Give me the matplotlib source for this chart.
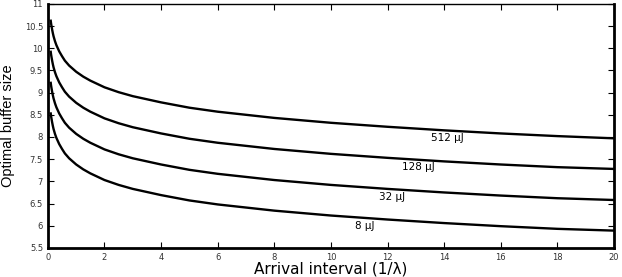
import matplotlib.pyplot as plt
from matplotlib.ticker import FuncFormatter

# Values
interval = [0.1, 0.11, 0.125, 0.15, 0.175, 0.2, 0.25, 0.3, 0.4, 0.5, 0.6, 0.75, 1, 1.25, 1.5,
            2, 2.5, 3, 4, 5, 6, 7, 8, 10, 12, 14, 16, 18, 20]
buf_512 = [10.62, 10.57, 10.51, 10.42, 10.34, 10.27, 10.16, 10.07, 9.93, 9.82, 9.72, 9.61, 9.47,
           9.36, 9.27, 9.12, 9.01, 8.92, 8.78, 8.66, 8.57, 8.50, 8.43, 8.32, 8.23, 8.15, 8.08,
           8.02, 7.97]
buf_128 = [9.92, 9.87, 9.81, 9.72, 9.64, 9.57, 9.46, 9.37, 9.23, 9.12, 9.02, 8.91, 8.77,
           8.66, 8.57, 8.42, 8.31, 8.22, 8.08, 7.96, 7.87, 7.80, 7.73, 7.62, 7.53, 7.45, 7.38,
           7.32, 7.28]
buf_32 = [9.22, 9.17, 9.11, 9.02, 8.94, 8.87, 8.76, 8.67, 8.53, 8.42, 8.32, 8.21, 8.07,
          7.96, 7.87, 7.72, 7.61, 7.52, 7.38, 7.26, 7.17, 7.10, 7.03, 6.92, 6.83, 6.75, 6.68,
          6.62, 6.58]
buf_8 = [8.53, 8.48, 8.42, 8.33, 8.25, 8.18, 8.07, 7.98, 7.84, 7.73, 7.63, 7.52, 7.38,
         7.27, 7.18, 7.03, 6.92, 6.83, 6.69, 6.57, 6.48, 6.41, 6.34, 6.23, 6.14, 6.06, 5.99,
         5.93, 5.89]

labels = ["512 \u00b5J", "128 \u00b5J", "32 \u00b5J", "8 \u00b5J"]
label_x = [14.1, 13.1, 12.15, 11.2]
label_y = [7.98, 7.33, 6.65, 6.0]

fig = plt.figure(figsize=(6.22, 2.77), dpi=100)
ax = fig.add_axes([0.077, 0.105, 0.91, 0.881])

for ys in [buf_512, buf_128, buf_32, buf_8]:
    ax.plot(interval, ys, color="black", linewidth=1.7)

for t, x, y in zip(labels, label_x, label_y):
    ax.text(x, y, t, ha="center", va="center", fontsize=7.5)

ax.set_xlim(0, 20)
ax.set_ylim(5.5, 11)
ax.set_xticks(range(0, 21, 2))
ax.set_yticks([5.5, 6, 6.5, 7, 7.5, 8, 8.5, 9, 9.5, 10, 10.5, 11])
ax.yaxis.set_major_formatter(FuncFormatter(lambda v, p: f"{v:g}"))
ax.tick_params(direction="in", top=True, right=True, labelsize=6, length=4, width=0.8,
               labelcolor="#333333")

for side in ["left", "bottom", "right"]:
    ax.spines[side].set_linewidth(2)
ax.spines["top"].set_linewidth(1)

ax.set_xlabel("Arrival interval (1/\u03bb)", fontsize=11, labelpad=0)
ax.set_ylabel("Optimal buffer size", fontsize=10.5, family="Liberation Sans", labelpad=7)

fig.savefig("out.png", dpi=100)
